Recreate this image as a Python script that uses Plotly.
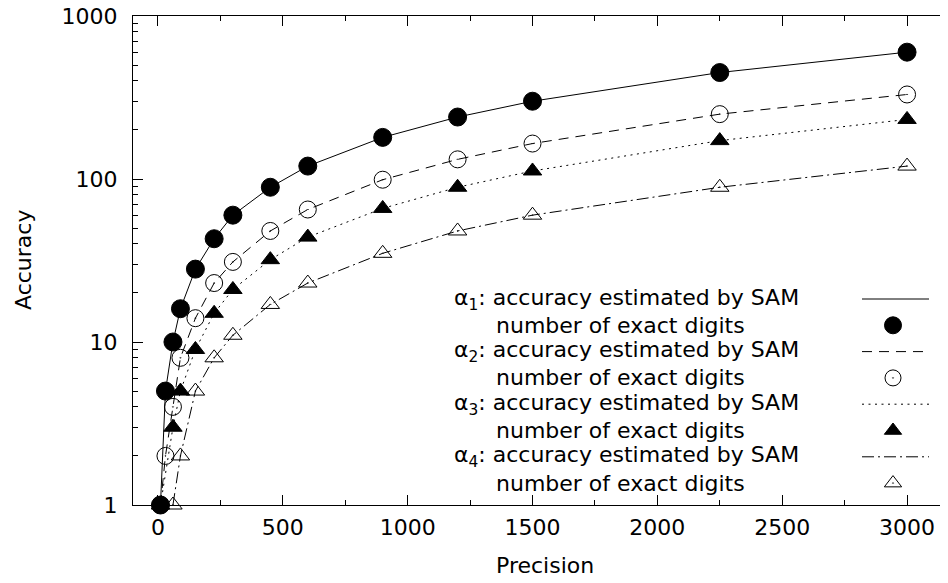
import plotly.graph_objects as go

# ---------------- data ----------------
precision = [10, 30, 60, 90, 150, 225, 300, 450, 600, 900, 1200, 1500, 2250, 3000]
acc_a1 = [1, 5, 10, 16, 28, 43, 60, 89, 120, 180, 240, 300, 450, 600]
acc_a2 = [1, 2, 4, 8, 14, 23, 31, 48, 65, 99, 132, 165, 250, 330]
acc_a3 = [1, None, 3, 5, 9, 15, 21, 32, 44, 66, 89, 112, 172, 232]
acc_a4 = [None, None, 1, 2, 5, 8, 11, 17, 23, 35, 48, 60, 89, 120]

x_ticks = [0, 500, 1000, 1500, 2000, 2500, 3000]
y_ticks = [1, 10, 100, 1000]
y_tick_text = ["1", "10", "100", "1000"]
series_titles = [
    "α<sub>1</sub>: accuracy estimated by SAM",
    "α<sub>2</sub>: accuracy estimated by SAM",
    "α<sub>3</sub>: accuracy estimated by SAM",
    "α<sub>4</sub>: accuracy estimated by SAM",
]
points_title = "number of exact digits"
x_title = "Precision"
y_title = "Accuracy"

# ---------------- styles ----------------
FONT = "DejaVu Sans"
FS = 22
OFF = 8                      # default page body margin
W, H = 940, 575              # figure size in page
# plot area in screen pixels (right border lies just past the window edge)
SL, SR, ST, SB = 133, 948, 16, 505
L, R, T, B = SL - OFF, SR - OFF, ST - OFF, SB - OFF

dashes = ["solid", "10px,7px", "2px,4.5px", "12px,4px,2px,4px"]
symbols = ["circle", "circle-open-dot", "triangle-up", "triangle-up-open-dot"]
sizes = [18, 17, 16, 16]
series = [acc_a1, acc_a2, acc_a3, acc_a4]

fig = go.Figure()
for ys, dsh, sym, sz in zip(series, dashes, symbols, sizes):
    fig.add_trace(go.Scatter(
        x=precision, y=ys, mode="lines+markers", connectgaps=True,
        line=dict(color="black", width=1, dash=dsh),
        marker=dict(symbol=sym, size=sz, color="black", line=dict(color="black", width=1)),
        showlegend=False, cliponaxis=False,
    ))

# ---- legend (gnuplot style: text left, sample right), in screen-pixel overlay axes ----
row0, drow = 299, 26.3
sample_x0, sample_x1, marker_x = 862, 929, 893
for i in range(4):
    ly = row0 + drow * (2 * i)
    my = row0 + drow * (2 * i + 1)
    fig.add_trace(go.Scatter(
        x=[sample_x0, sample_x1], y=[ly, ly], mode="lines", xaxis="x2", yaxis="y2",
        line=dict(color="black", width=1, dash=dashes[i]), showlegend=False, cliponaxis=False))
    fig.add_trace(go.Scatter(
        x=[marker_x], y=[my], mode="markers", xaxis="x2", yaxis="y2",
        marker=dict(symbol=symbols[i], size=sizes[i] - 1, color="black",
                    line=dict(color="black", width=1)),
        showlegend=False, cliponaxis=False))


def px(xs):
    return (xs - SL) / (SR - SL)


def py(ys):
    return (SB - ys) / (SB - ST)


annotations = []
for i in range(4):
    ly = row0 + drow * (2 * i)
    my = row0 + drow * (2 * i + 1)
    annotations.append(dict(text=series_titles[i], x=px(452), y=py(ly), xref="paper", yref="paper",
                            xanchor="left", yanchor="middle", showarrow=False,
                            font=dict(family=FONT, size=FS, color="black")))
    annotations.append(dict(text=points_title, x=px(494), y=py(my), xref="paper", yref="paper",
                            xanchor="left", yanchor="middle", showarrow=False,
                            font=dict(family=FONT, size=FS, color="black")))

annotations.append(dict(text=x_title, x=px(545), y=py(565), xref="paper", yref="paper",
                        xanchor="center", yanchor="middle", showarrow=False,
                        font=dict(family=FONT, size=FS, color="black")))
annotations.append(dict(text=y_title, x=px(24), y=py(260), xref="paper", yref="paper",
                        xanchor="center", yanchor="middle", showarrow=False, textangle=-90,
                        font=dict(family=FONT, size=FS, color="black")))

minor_y = [k * 10 ** d for d in range(3) for k in range(2, 10)]

fig.update_layout(
    width=W, height=H,
    margin=dict(l=L, r=W - R, t=T, b=H - B, pad=0, autoexpand=False),
    paper_bgcolor="white", plot_bgcolor="white",
    font=dict(family=FONT, size=FS, color="black"),
    showlegend=False,
    annotations=annotations,
    xaxis=dict(
        range=[-100, 3164], tickvals=x_ticks, ticks="inside", ticklen=10, tickwidth=1,
        tickcolor="black", showline=True, linecolor="black", linewidth=1, mirror="ticks",
        showgrid=False, zeroline=False, ticklabelstandoff=3, automargin=False,
        ticklabeloverflow="allow",
        tickfont=dict(family=FONT, size=FS, color="black"),
        minor=dict(dtick=250, tick0=0, ticks="inside", ticklen=5, tickcolor="black", tickwidth=1,
                   showgrid=False),
    ),
    yaxis=dict(
        type="log", range=[0, 3], tickvals=y_ticks, ticktext=y_tick_text, ticks="inside",
        ticklen=10, tickwidth=1, tickcolor="black", showline=True, linecolor="black", linewidth=1,
        mirror=False, showgrid=False, zeroline=False, ticklabelstandoff=10, automargin=False,
        ticklabeloverflow="allow",
        tickfont=dict(family=FONT, size=FS, color="black"),
        minor=dict(tickvals=minor_y, ticks="inside", ticklen=5, tickcolor="black", tickwidth=1,
                   showgrid=False),
    ),
    xaxis2=dict(overlaying="x", range=[SL, SR], visible=False, fixedrange=True),
    yaxis2=dict(overlaying="y", range=[SB, ST], visible=False, fixedrange=True),
)

fig.write_html("out.html")
